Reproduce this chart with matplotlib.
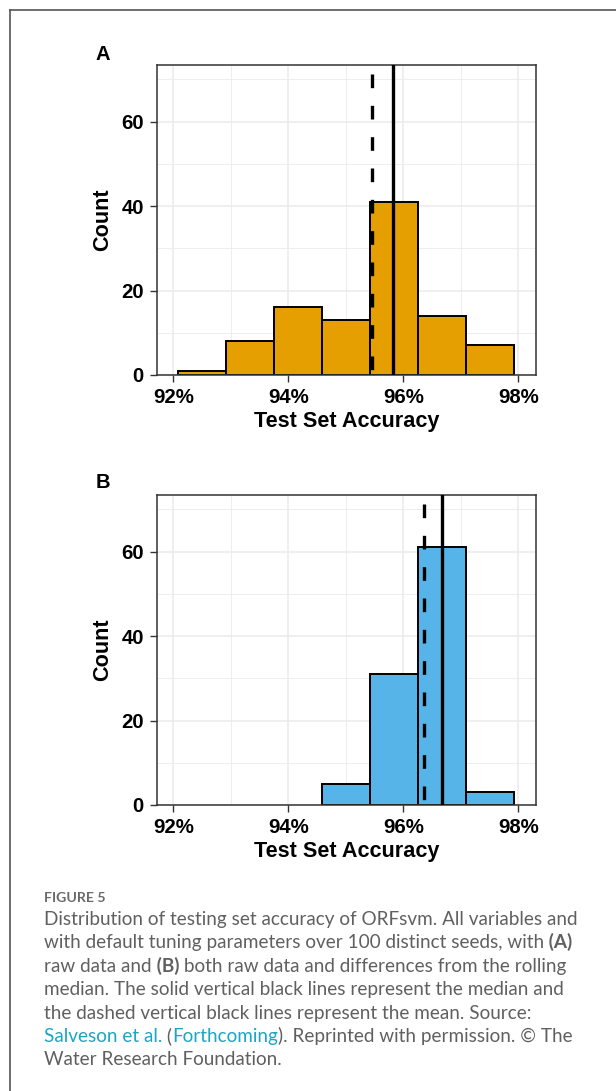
import matplotlib
matplotlib.use('Agg')
import matplotlib.pyplot as plt
from matplotlib.lines import Line2D
from matplotlib.text import Annotation
from matplotlib.ticker import FuncFormatter
import numpy as np

# histogram bins (test set accuracy, %)
bin_edges = [92.075, 92.91, 93.75, 94.585, 95.415, 96.26, 97.09, 97.925]
counts_a = [1, 8, 16, 13, 41, 14, 7]
counts_b = [0, 0, 0, 5, 31, 61, 3]
mean_a, median_a = 95.46, 95.83
mean_b, median_b = 96.36, 96.67
x_ticks = [92, 94, 96, 98]
x_minor = [93, 95, 97]
y_ticks = [0, 20, 40, 60]
y_minor = [10, 30, 50, 70]

caption_head = 'FIGURE 5'
caption_lines = [
    [('Distribution of testing set accuracy of ORFsvm. All variables and', 'normal', 'txt')],
    [('with default tuning parameters over 100 distinct seeds, with', 'normal', 'txt'),
     (' (A)', 'bold', 'txt')],
    [('raw data and', 'normal', 'txt'), (' (B)', 'bold', 'txt'),
     (' both raw data and differences from the rolling', 'normal', 'txt')],
    [('median. The solid vertical black lines represent the median and', 'normal', 'txt')],
    [('the dashed vertical black lines represent the mean. Source:', 'normal', 'txt')],
    [('Salveson et al.', 'normal', 'link'), (' (', 'normal', 'txt'), ('Forthcoming', 'normal', 'link'),
     ('). Reprinted with permission. \u00a9 The', 'normal', 'txt')],
    [('Water Research Foundation.', 'normal', 'txt')],
]

W, H = 616, 1091
plt.rcParams['font.family'] = ['Liberation Sans', 'DejaVu Sans']
plt.rcParams['font.weight'] = 'bold'
fig = plt.figure(figsize=(W / 100, H / 100), dpi=100)


def px_box(left, top, right, bottom):
    return [left / W, 1 - bottom / H, (right - left) / W, (bottom - top) / H]


def draw_panel(ax, counts, color, mean, median):
    edges = np.array(bin_edges)
    counts = np.array(counts)
    keep = counts > 0
    ax.bar(edges[:-1][keep], counts[keep], width=np.diff(edges)[keep], align='edge',
           color=color, edgecolor='black', linewidth=1.4, zorder=2)
    ax.axvline(median, color='black', lw=2.4, zorder=3)
    ax.axvline(mean, color='black', lw=2.4, zorder=3, dash_capstyle='butt',
               linestyle=(7.8, (4.1, 5.3)))
    ax.set_xlim(91.71, 98.31)
    ax.set_ylim(0, 73.4)
    ax.set_xticks(x_ticks)
    ax.set_xticks(x_minor, minor=True)
    ax.set_yticks(y_ticks)
    ax.set_yticks(y_minor, minor=True)
    ax.xaxis.set_major_formatter(FuncFormatter(lambda v, p: f'{v:.0f}%'))
    ax.grid(which='major', color='#EBEBEB', lw=1.1)
    ax.grid(which='minor', color='#EBEBEB', lw=0.6)
    ax.set_axisbelow(True)
    ax.tick_params(which='major', length=4.8, width=1.0, color='#333333',
                   labelsize=14.7, pad=4.5, labelcolor='black')
    ax.tick_params(which='minor', length=0)
    for s in ax.spines.values():
        s.set_color('#333333')
        s.set_linewidth(1.1)
    ax.set_xlabel('Test Set Accuracy', fontsize=15.6, fontweight='bold', va='center')
    ax.set_ylabel('Count', fontsize=15.6, fontweight='bold', va='center')
    ax.xaxis.set_label_coords(0.5, -0.151)
    ax.yaxis.set_label_coords(-0.1416, 0.5)


ax_a = fig.add_axes(px_box(156.7, 65, 536, 375))
draw_panel(ax_a, counts_a, '#E69F00', mean_a, median_a)
ax_b = fig.add_axes(px_box(156.7, 495, 536, 805))
draw_panel(ax_b, counts_b, '#56B4E9', mean_b, median_b)

fig.text(103 / W, 1 - 55 / H, 'A', fontsize=14.5, ha='center', va='center')
fig.text(103 / W, 1 - 483 / H, 'B', fontsize=14.5, ha='center', va='center')

# outer frame (top and left edges)
frame_kw = dict(transform=fig.transFigure, color='#555555', lw=1.2)
fig.add_artist(Line2D([10 / W, 1], [1 - 10 / H, 1 - 10 / H], **frame_kw))
fig.add_artist(Line2D([10 / W, 10 / W], [1 - 10 / H, 0], **frame_kw))

# caption
cap_font = ['Lato', 'DejaVu Sans']
cap_size = 13.6
colors = {'txt': '#606060', 'link': '#1AA6C6'}
fig.text(44 / W, 1 - 902 / H, caption_head, fontsize=10.2, family=cap_font,
         weight='bold', color='#6a6a6a', va='baseline')
for i, segments in enumerate(caption_lines):
    base = 925 + 23.4 * i
    last = None
    for text, weight, kind in segments:
        if last is None:
            last = fig.text(44 / W, 1 - base / H, text, fontsize=cap_size, family=cap_font,
                            weight=weight, color=colors[kind], va='baseline')
        else:
            last = fig.add_artist(Annotation(
                text, xy=(1, 0), xycoords=last, va='bottom', ha='left',
                fontsize=cap_size, family=cap_font, weight=weight, color=colors[kind]))

fig.savefig('out.png', dpi=100)
